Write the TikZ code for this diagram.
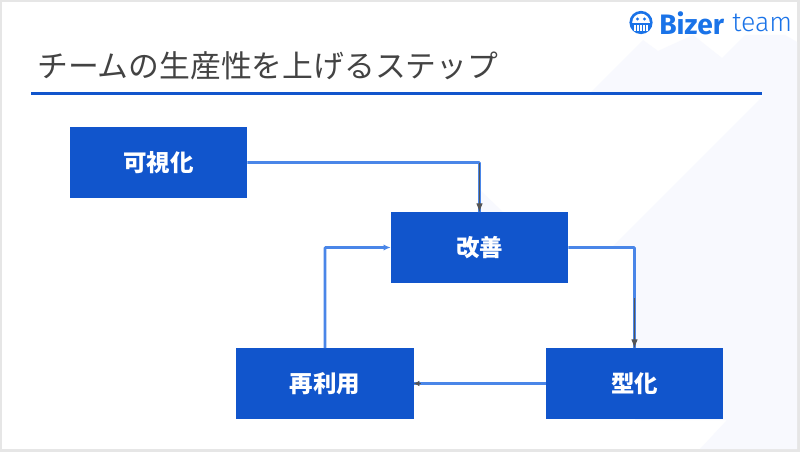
\documentclass[tikz,border=0pt]{standalone}
\usepackage{fontspec}
\setmainfont{Noto Sans CJK JP}
\newfontfamily\logofont{Fira Sans}
\newfontfamily\logolight{Fira Sans Light}
\usetikzlibrary{arrows.meta,positioning,calc}

\definecolor{frameGray}{HTML}{E6E6E6}
\definecolor{paleBlue}{HTML}{F8F9FE}
\definecolor{boxBlue}{HTML}{1155CC}
\definecolor{linkBlue}{HTML}{4A86E8}
\definecolor{logoBlue}{HTML}{1A73E8}
\definecolor{titleGray}{HTML}{434343}
\definecolor{tipGray}{HTML}{555555}

\begin{document}
\begin{tikzpicture}[
  x=0.025cm, y=-0.025cm,
  step box/.style={rectangle, fill=boxBlue, draw=none, inner sep=0pt, text=white,
    minimum width=4.425cm, minimum height=1.75cm, font=\bfseries\fontsize{16.7}{16.7}\selectfont},
  link/.style={draw=linkBlue, line width=1.8pt, rounded corners=0.5pt},
  tip/.style={-{Latex[length=2.2mm,width=1.6mm]}, draw=tipGray, line width=0.5pt},
]
\useasboundingbox (0,0) rectangle (800,452);

% ---------- slide background ----------
\fill[frameGray] (0,0) rectangle (800,452);
\fill[white] (2,2) rectangle (797,449);
\fill[paleBlue] (590,93) -- (643,40) -- (658,51) -- (693,35) -- (722,58) -- (745,35) -- (785,35)
  -- (797,42) -- (797,449) -- (700,449) -- (727,420) -- (635,420) -- (635,247) -- (612,247)
  -- (762,97) -- (762,93) -- cycle;
\fill[paleBlue] (480,190) -- (503,212) -- (480,212) -- cycle;

% ---------- logo ----------
\node[circle, fill=logoBlue, minimum size=0.58cm, inner sep=0pt] (Lmark) at (641,22.5) {};
\begin{scope}
  \clip (Lmark.center) circle (8.8);
  \fill[white] ($(Lmark.center)+(-10,-10)$) rectangle ++(20,10.5);
\end{scope}
\fill[logoBlue] (Lmark.center) ++(-3.5,-3.5) circle (1.6) ++(7,0) circle (1.6);
\foreach \tx in {-6,-3,0,3,6}
  \fill[white] ($(Lmark.center)+(\tx-0.8,2.5)$) rectangle ++(1.6,6.5);
\node[anchor=west, text=logoBlue, inner sep=0pt, font=\logofont\bfseries\fontsize{20}{20}\selectfont] (Lbiz) at (659,23) {Bizer};
\node[anchor=west, text=logoBlue, inner sep=0pt, font=\logolight\fontsize{19}{19}\selectfont] (Lteam) at (732,23) {team};

% ---------- title ----------
\node[anchor=west, inner sep=0pt, text=titleGray, font=\fontsize{21.9}{21.9}\selectfont] (Title) at (37,66) {チームの生産性を上げるステップ};
\coordinate (RuleL) at (31,93.5);
\coordinate (RuleR) at (762,93.5);
\draw[boxBlue, line width=1.5pt] (RuleL) -- (RuleR);

% ---------- steps ----------
\node[step box] (Vis)   at (158.5,162.5) {可視化};
\node[step box] (Kaizen) at (479.5,247.5) {改善};
\node[step box] (Form)  at (634.5,383.5) {型化};
\node[step box] (Reuse) at (325,383.5) {再利用};

% ---------- connectors ----------
\draw[link] (Vis.east) -| (Kaizen.north);
\draw[tip] ($(Kaizen.north)+(0,-49)$) -- (Kaizen.north);
\draw[link] (Kaizen.east) -| (Form.north);
\draw[tip] ($(Form.north)+(0,-50)$) -- (Form.north);
\draw[link] (Form.west) -- (Reuse.east);
\draw[tipGray, line width=0.5pt, {Latex[length=1.4mm,width=1.4mm]}-] (Reuse.east) -- ($(Reuse.east)+(7,0)$);
\draw[link, -{Latex[length=1.8mm,width=1.6mm]}] (Reuse.north) |- (Kaizen.west);
\end{tikzpicture}
\end{document}
